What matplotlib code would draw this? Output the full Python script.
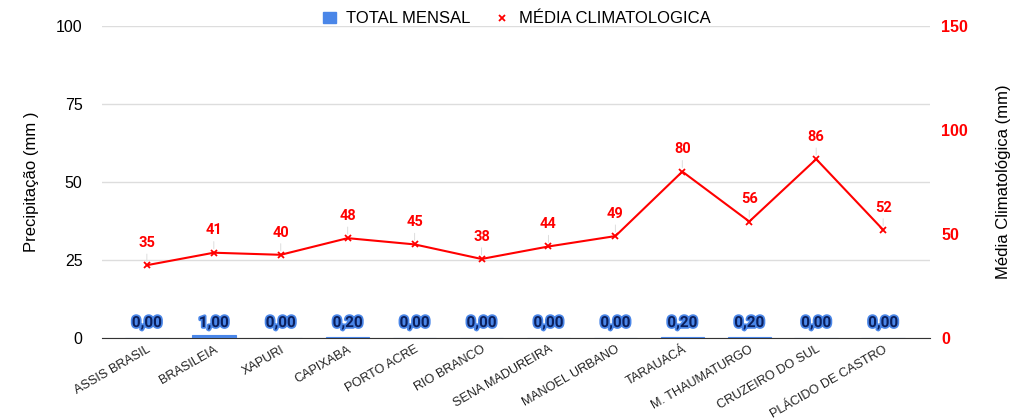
import matplotlib.pyplot as plt
import matplotlib.patheffects as pe
from matplotlib.lines import Line2D
from matplotlib.patches import Patch

plt.rcParams['font.family'] = ['Liberation Sans', 'DejaVu Sans']

cidades = ["ASSIS BRASIL", "BRASILEIA", "XAPURI", "CAPIXABA", "PORTO ACRE",
           "RIO BRANCO", "SENA MADUREIRA", "MANOEL URBANO", "TARAUACÁ",
           "M. THAUMATURGO", "CRUZEIRO DO SUL", "PLÁCIDO DE CASTRO"]
total_mensal = [0.0, 1.0, 0.0, 0.2, 0.0, 0.0, 0.0, 0.0, 0.2, 0.2, 0.0, 0.0]
media_clim = [35, 41, 40, 48, 45, 38, 44, 49, 80, 56, 86, 52]

azul = "#4a86e8"
vermelho = "#ff0000"

fig = plt.figure(figsize=(10.17, 4.2), dpi=100)
ax = fig.add_axes([102 / 1017, 82 / 420, 828 / 1017, 312 / 420])
ax2 = ax.twinx()

x = list(range(len(cidades)))
ax.bar(x, total_mensal, width=0.65, color=azul, edgecolor=azul, linewidth=0.8,
       zorder=3)
ax.set_ylim(0, 100)
ax.set_xlim(-0.67, 11.7)
ax.set_yticks([0, 25, 50, 75, 100])
ax.yaxis.grid(True, color="#dddddd", linewidth=1)
ax.set_axisbelow(True)
ax.tick_params(axis="y", length=0, labelsize=11.5, pad=14)
ax.tick_params(axis="x", length=0, labelsize=9.1, labelcolor="#222222", pad=4)
ax.set_xticks(x)
ax.set_xticklabels(cidades, rotation=30, ha="right", rotation_mode="anchor")
ax.set_ylabel("Precipitação (mm )", fontsize=12, labelpad=12)
for s in ["top", "right", "left"]:
    ax.spines[s].set_visible(False)
ax.spines["bottom"].set_color("#333333")

# rótulos do total mensal ficam numa altura fixa logo acima do eixo
for xi, v in zip(x, total_mensal):
    t = ax.text(xi, 4.8, f"{v:.2f}".replace(".", ","), ha="center", va="center",
                fontsize=11, fontweight="bold", color="#0b1f5c", zorder=5,
                family=["Roboto", "DejaVu Sans"])
    t.set_path_effects([pe.withStroke(linewidth=2.5, foreground=azul)])

ax2.plot(x, media_clim, color=vermelho, linewidth=1.5, marker="x",
         markersize=5, markeredgewidth=1.3, zorder=3)
ax2.set_ylim(0, 150)
ax2.set_yticks([0, 50, 100, 150])
ax2.tick_params(axis="y", length=0, labelsize=11.5, labelcolor=vermelho, pad=8)
for lab in ax2.get_yticklabels():
    lab.set_fontweight("bold")
ax2.set_ylabel("Média Climatológica (mm)", fontsize=12, labelpad=20)
for s in ["top", "right", "left", "bottom"]:
    ax2.spines[s].set_visible(False)
for xi, v in zip(x, media_clim):
    ax2.annotate(str(v), (xi, v), xytext=(0, 11), textcoords="offset points",
                 ha="center", va="bottom", fontsize=10.5, fontweight="bold",
                 color=vermelho, family=["Roboto", "DejaVu Sans"],
                 arrowprops=dict(arrowstyle="-", color="#dddddd", lw=0.7,
                                 shrinkA=1, shrinkB=3))

handles = [Patch(color=azul, label="TOTAL MENSAL"),
           Line2D([], [], color=vermelho, marker="x", linestyle="none",
                  markersize=5, markeredgewidth=1.3, label="MÉDIA CLIMATOLOGICA")]
fig.legend(handles=handles, loc="center", bbox_to_anchor=(0.508, 0.955), ncol=2,
           frameon=False, fontsize=12, handlelength=0.8, handletextpad=0.6,
           columnspacing=1.5)

fig.savefig("out.png", dpi=100)
